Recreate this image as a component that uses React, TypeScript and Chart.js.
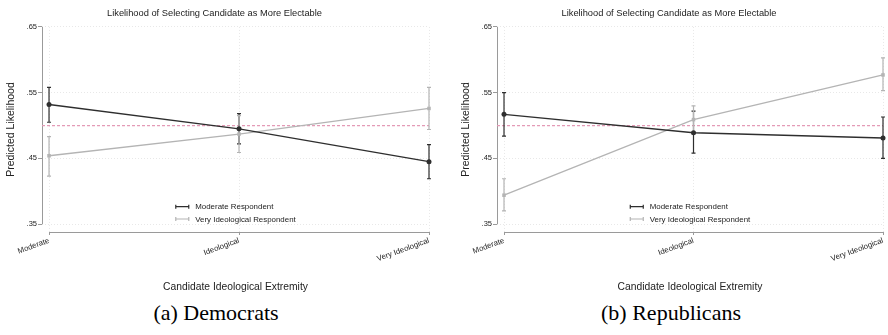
import React, { useEffect, useRef } from 'react';
import { Chart, registerables } from 'chart.js';

Chart.register(...registerables);

const categories = ['Moderate', 'Ideological', 'Very Ideological'];
const yTicks = [0.35, 0.45, 0.55, 0.65];
const referenceValue = 0.5;
const seriesLabels = ['Moderate Respondent', 'Very Ideological Respondent'];
const chartTitle = 'Likelihood of Selecting Candidate as More Electable';
const yTitle = 'Predicted Likelihood';
const xTitle = 'Candidate Ideological Extremity';

// Democrats
const demModerate = [0.532, 0.495, 0.445];
const demModerateLow = [0.505, 0.472, 0.419];
const demModerateHigh = [0.558, 0.518, 0.471];
const demIdeological = [0.454, 0.487, 0.526];
const demIdeologicalLow = [0.423, 0.459, 0.494];
const demIdeologicalHigh = [0.483, 0.515, 0.558];

// Republicans
const repModerate = [0.517, 0.489, 0.481];
const repModerateLow = [0.484, 0.458, 0.45];
const repModerateHigh = [0.55, 0.522, 0.513];
const repIdeological = [0.394, 0.509, 0.577];
const repIdeologicalLow = [0.37, 0.488, 0.553];
const repIdeologicalHigh = [0.419, 0.53, 0.603];

const FONT = '"Liberation Sans", Arial, Helvetica, sans-serif';
const DARK = '#2e2e2e';
const GRAY = '#b4b4b4';
const PINK = '#e49ab6';
const GRID = '#e8e8e8';
const AXIS = '#9a9a9a';

const decorPlugin = {
  id: 'decor',
  beforeDatasetsDraw(chart: any) {
    const { ctx, chartArea, scales } = chart;
    const x = scales.x;
    const y = scales.y;
    ctx.save();
    ctx.strokeStyle = AXIS;
    ctx.lineWidth = 1;
    ctx.setLineDash([]);
    ctx.beginPath();
    ctx.moveTo(chartArea.left + 0.5, y.getPixelForValue(yTicks[yTicks.length - 1]));
    ctx.lineTo(chartArea.left + 0.5, y.getPixelForValue(yTicks[0]));
    ctx.moveTo(x.getPixelForValue(0), chartArea.bottom + 0.5);
    ctx.lineTo(x.getPixelForValue(categories.length - 1), chartArea.bottom + 0.5);
    ctx.stroke();
    const ry = y.getPixelForValue(referenceValue);
    ctx.strokeStyle = PINK;
    ctx.lineWidth = 1.3;
    ctx.setLineDash([3, 2]);
    ctx.beginPath();
    ctx.moveTo(chartArea.left, ry);
    ctx.lineTo(chartArea.right, ry);
    ctx.stroke();
    ctx.setLineDash([]);
    chart.data.datasets.forEach((ds: any) => {
      ctx.strokeStyle = ds.borderColor;
      ctx.lineWidth = 1.2;
      ds.data.forEach((p: any, j: number) => {
        const px = x.getPixelForValue(p.x);
        const y1 = y.getPixelForValue(ds.errLow[j]);
        const y2 = y.getPixelForValue(ds.errHigh[j]);
        ctx.beginPath();
        ctx.moveTo(px, y1);
        ctx.lineTo(px, y2);
        ctx.moveTo(px - 2, y1);
        ctx.lineTo(px + 2, y1);
        ctx.moveTo(px - 2, y2);
        ctx.lineTo(px + 2, y2);
        ctx.stroke();
      });
    });
    ctx.restore();
  },
  afterDraw(chart: any) {
    const { ctx, chartArea } = chart;
    ctx.save();
    ctx.font = `7.9px ${FONT}`;
    ctx.textBaseline = 'middle';
    ctx.textAlign = 'left';
    const items = chart.data.datasets.map((d: any) => ({ label: d.label, color: d.borderColor }));
    const maxW = Math.max(...items.map((it: any) => ctx.measureText(it.label).width));
    const lineLen = 14;
    const gap = 6;
    const total = lineLen + gap + maxW;
    const cx = (chartArea.left + chartArea.right) / 2;
    const left = cx - total / 2;
    const rowGap = 12.3;
    const firstY = chartArea.bottom - 25.3;
    items.forEach((it: any, i: number) => {
      const yy = firstY + i * rowGap;
      ctx.strokeStyle = it.color;
      ctx.lineWidth = 1.2;
      ctx.beginPath();
      ctx.moveTo(left, yy);
      ctx.lineTo(left + lineLen, yy);
      ctx.moveTo(left + 0.5, yy - 2);
      ctx.lineTo(left + 0.5, yy + 2);
      ctx.moveTo(left + lineLen - 0.5, yy - 2);
      ctx.lineTo(left + lineLen - 0.5, yy + 2);
      ctx.stroke();
      ctx.fillStyle = '#222';
      ctx.fillText(it.label, left + lineLen + gap, yy + 0.5);
    });
    ctx.restore();
  },
};

type PanelProps = {
  moderate: number[];
  moderateLow: number[];
  moderateHigh: number[];
  ideological: number[];
  ideologicalLow: number[];
  ideologicalHigh: number[];
  offset: number;
  rightPad: number;
  caption: string;
  left: number;
};

const W = 444;
const H = 296;

function Panel(props: PanelProps) {
  const ref = useRef<HTMLCanvasElement | null>(null);
  useEffect(() => {
    if (!ref.current) return;
    const toPts = (arr: number[]) => arr.map((v, i) => ({ x: i, y: v }));
    const chart = new Chart(ref.current, {
      type: 'line',
      data: {
        datasets: [
          {
            label: seriesLabels[0],
            data: toPts(props.moderate),
            errLow: props.moderateLow,
            errHigh: props.moderateHigh,
            borderColor: DARK,
            backgroundColor: DARK,
            borderWidth: 1.4,
            pointRadius: 2.5,
            pointStyle: 'circle',
            pointBorderWidth: 0,
            tension: 0,
            clip: false,
          } as any,
          {
            label: seriesLabels[1],
            data: toPts(props.ideological),
            errLow: props.ideologicalLow,
            errHigh: props.ideologicalHigh,
            borderColor: GRAY,
            backgroundColor: GRAY,
            borderWidth: 1.3,
            pointRadius: 2.5,
            pointStyle: 'rect',
            pointBorderWidth: 0,
            tension: 0,
            clip: false,
          } as any,
        ],
      },
      options: {
        responsive: false,
        animation: false,
        devicePixelRatio: 1,
        layout: { padding: { left: props.offset, right: props.rightPad, top: 0, bottom: 0 } },
        plugins: {
          legend: { display: false },
          tooltip: { enabled: false },
          title: {
            display: true,
            text: chartTitle,
            color: '#222',
            font: { family: FONT, size: 9.3, weight: 'normal' },
            padding: { top: 7.9, bottom: 7.9 },
          },
        },
        scales: {
          x: {
            type: 'linear',
            min: -0.037,
            max: categories.length - 1,
            afterBuildTicks: (s: any) => {
              s.ticks = categories.map((_, i) => ({ value: i }));
            },
            afterFit: (s: any) => {
              s.height = H - 232;
            },
            ticks: {
              autoSkip: false,
              minRotation: 20,
              maxRotation: 20,
              padding: 1,
              color: '#222',
              font: { family: FONT, size: 7.8 },
              callback: (v: any) => categories[v as number] ?? '',
            },
            grid: {
              color: GRID,
              borderDash: [1, 2],
              tickBorderDash: [],
              tickColor: AXIS,
              tickLength: 3,
              lineWidth: 1,
            },
            border: { display: false, dash: [1, 2] },
            title: {
              display: true,
              text: xTitle,
              color: '#222',
              font: { family: FONT, size: 10.3 },
              padding: { top: 0, bottom: 3 },
            },
          },
          y: {
            type: 'linear',
            min: 0.338,
            max: 0.65,
            afterBuildTicks: (s: any) => {
              s.ticks = yTicks.map((v) => ({ value: v }));
            },
            afterFit: (s: any) => {
              s.width = 42;
            },
            ticks: {
              padding: 1,
              color: '#222',
              font: { family: FONT, size: 7.5 },
              callback: (v: any) => Number(v).toFixed(2).replace(/^0/, ''),
            },
            grid: {
              color: GRID,
              tickBorderDash: [],
              tickColor: AXIS,
              tickLength: 4,
              lineWidth: 1,
            },
            border: { display: false, dash: [1, 2] },
            title: {
              display: true,
              text: yTitle,
              color: '#222',
              font: { family: FONT, size: 10.5 },
              padding: { top: 5, bottom: 0 },
            },
          },
        },
      } as any,
      plugins: [decorPlugin],
    });
    return () => chart.destroy();
  }, []);
  return (
    <div style={{ position: 'absolute', left: props.left, top: 0, width: W, height: 335 }}>
      <canvas ref={ref} width={W} height={H} style={{ width: W, height: H, display: 'block' }} />
      <div
        style={{
          position: 'absolute',
          left: 0,
          width: W - 12 + props.offset * 2,
          top: 301,
          textAlign: 'center',
          fontFamily: '"Liberation Serif", "Times New Roman", serif',
          fontSize: 22,
          lineHeight: '24px',
          color: '#000',
        }}
      >
        {props.caption}
      </div>
    </div>
  );
}

export default function App() {
  return (
    <div style={{ position: 'absolute', left: 0, top: 0, width: 888, height: 335, background: '#fff', overflow: 'hidden' }}>
      <Panel
        moderate={demModerate}
        moderateLow={demModerateLow}
        moderateHigh={demModerateHigh}
        ideological={demIdeological}
        ideologicalLow={demIdeologicalLow}
        ideologicalHigh={demIdeologicalHigh}
        offset={0}
        rightPad={15}
        caption="(a) Democrats"
        left={0}
      />
      <Panel
        moderate={repModerate}
        moderateLow={repModerateLow}
        moderateHigh={repModerateHigh}
        ideological={repIdeological}
        ideologicalLow={repIdeologicalLow}
        ideologicalHigh={repIdeologicalHigh}
        offset={11}
        rightPad={5}
        caption="(b) Republicans"
        left={444}
      />
    </div>
  );
}
